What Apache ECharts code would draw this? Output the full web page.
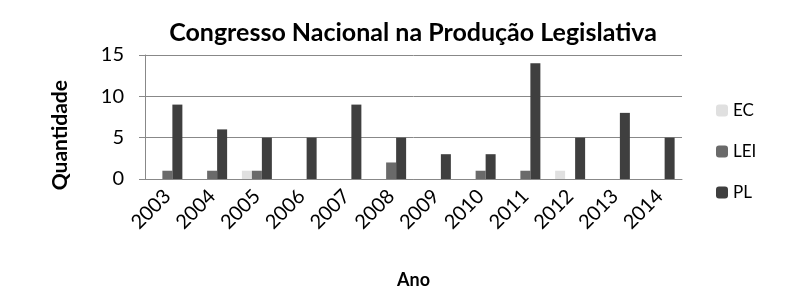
<!DOCTYPE html>
<html><head><meta charset="utf-8">
<script src="https://cdn.jsdelivr.net/npm/echarts@6/dist/echarts.min.js"></script>
<style>html,body{margin:0;padding:0;background:#fff}#c{width:800px;height:297px}</style>
</head><body><div id="c"></div>
<script>
const years = ['2003','2004','2005','2006','2007','2008','2009','2010','2011','2012','2013','2014'];
const EC  = [0,0,1,0,0,0,0,0,0,1,0,0];
const LEI = [1,1,1,0,0,2,0,1,1,0,0,0];
const PL  = [9,6,5,5,9,5,3,3,14,5,8,5];
const F = 'Lato, "Open Sans", sans-serif';
const chart = echarts.init(document.getElementById('c'), null, {renderer:'canvas'});
function s(name, data, color){
  return {name, type:'bar', data, barWidth:10, barGap:'0%',
    itemStyle:{color, borderWidth:0}};
}
chart.setOption({
  animation:false,
  title:{text:'Congresso Nacional na Produção Legislativa', left:408, textAlign:'center', top:15,
    textStyle:{fontFamily:F, fontSize:25, fontWeight:'bold', color:'#000'}},
  legend:{orient:'vertical', left:711, top:97, itemWidth:12, itemHeight:12, itemGap:24,
    textStyle:{fontFamily:F, fontSize:17, color:'#000'},
    data:['EC','LEI','PL']},
  grid:{left:145, right:118, top:55, bottom:118},
  graphic:[{type:'text', left:50, top:80, rotation:Math.PI/2,
    style:{text:'Quantidade', fontFamily:F, fontSize:21, fontWeight:'bold', fill:'#000'}}],
  xAxis:{type:'category', data:years, name:'Ano', nameLocation:'middle', nameGap:92,
    nameTextStyle:{fontFamily:F, fontSize:18, fontWeight:'bold', color:'#000'},
    axisLine:{lineStyle:{color:'#888'}},
    axisTick:{length:8, lineStyle:{color:'#888'}},
    axisLabel:{rotate:45, fontFamily:F, fontSize:20, color:'#000', margin:14}},
  yAxis:{type:'value', min:0, max:15, interval:5,
    axisLine:{show:true, lineStyle:{color:'#888'}},
    axisTick:{show:true, length:6, lineStyle:{color:'#888'}},
    axisLabel:{fontFamily:F, fontSize:20, color:'#000', margin:21},
    splitLine:{lineStyle:{color:'#888'}}},
  series:[s('EC',EC,'#e0e0e0'), s('LEI',LEI,'#6a6a6a'), s('PL',PL,'#3f3f3f')]
});
</script></body></html>
